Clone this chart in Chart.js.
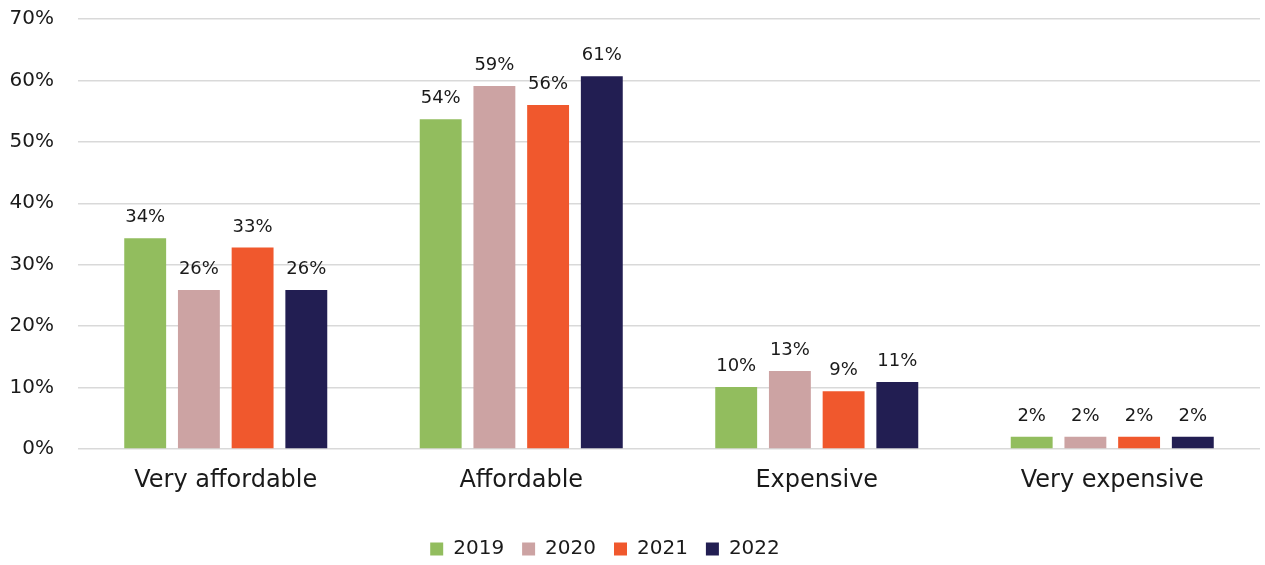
<!DOCTYPE html>
<html>
<head>
<meta charset="utf-8">
<script src="https://cdn.jsdelivr.net/npm/chart.js@4/dist/chart.umd.min.js"></script>
<style>
  html, body { margin: 0; padding: 0; background: #fff; }
  #wrap { width: 1265px; height: 565px; }
</style>
</head>
<body>
<div id="wrap"><canvas id="js-chart"></canvas></div>
<script>
const CATEGORIES = ['Very affordable', 'Affordable', 'Expensive', 'Very expensive'];
const YEARS = ['2019', '2020', '2021', '2022'];
const VALUES_2019 = [34.3, 53.7, 10.1, 2.0];
const VALUES_2020 = [25.9, 59.1, 12.7, 2.0];
const VALUES_2021 = [32.8, 56.0, 9.4, 2.0];
const VALUES_2022 = [25.9, 60.7, 10.9, 2.0];
const COLORS = ['#92bd5e', '#cca3a3', '#f0582d', '#221e52'];

const FONT = '"DejaVu Sans", sans-serif';
const TEXT = '#1a1a1a';

// подписи значений над столбиками
const valueLabels = {
  id: 'valueLabels',
  afterDatasetsDraw(chart) {
    const ctx = chart.ctx;
    ctx.save();
    ctx.font = '18px ' + FONT;
    ctx.fillStyle = TEXT;
    ctx.textAlign = 'center';
    ctx.textBaseline = 'alphabetic';
    chart.data.datasets.forEach((ds, i) => {
      chart.getDatasetMeta(i).data.forEach((bar, j) => {
        ctx.fillText(Math.round(ds.data[j]) + '%', bar.x, bar.y - 16);
      });
    });
    ctx.restore();
  },
};

// легенда чуть левее центра
const legendShift = {
  id: 'legendShift',
  afterLayout(chart) {
    chart.legend.left -= 25;
    chart.legend.right -= 25;
  },
};

const series = [VALUES_2019, VALUES_2020, VALUES_2021, VALUES_2022];

const ctx = document.querySelector('#js-chart').getContext('2d');
new Chart(ctx, {
  type: 'bar',
  data: {
    labels: CATEGORIES,
    datasets: series.map((data, i) => ({
      label: YEARS[i],
      data: data,
      backgroundColor: COLORS[i],
      categoryPercentage: 0.727,
      barPercentage: 0.78,
    })),
  },
  options: {
    responsive: true,
    maintainAspectRatio: false,
    animation: false,
    layout: { padding: { top: 19, right: 5, left: 0, bottom: -4 } },
    plugins: {
      tooltip: { enabled: false },
      legend: {
        position: 'bottom',
        labels: {
          font: { family: FONT, size: 20 },
          color: TEXT,
          boxWidth: 13,
          boxHeight: 13,
          padding: 18,
        },
      },
    },
    scales: {
      x: {
        grid: { display: false, drawTicks: false },
        border: { display: false },
        ticks: {
          font: { family: FONT, size: 24 },
          color: TEXT,
          padding: 17,
        },
        afterFit(scale) { scale.height = 72; },
      },
      y: {
        min: 0,
        max: 70,
        grid: { color: '#d9d9d9', lineWidth: 1.5, drawTicks: false },
        border: { display: false },
        ticks: {
          stepSize: 10,
          font: { family: FONT, size: 20 },
          color: TEXT,
          padding: 24,
          callback: v => v + '%',
        },
        afterFit(scale) {
          scale.width = 78;
          scale.paddingTop = 0;
          scale.paddingBottom = 0;
        },
      },
    },
  },
  plugins: [valueLabels, legendShift],
});
</script>
</body>
</html>
